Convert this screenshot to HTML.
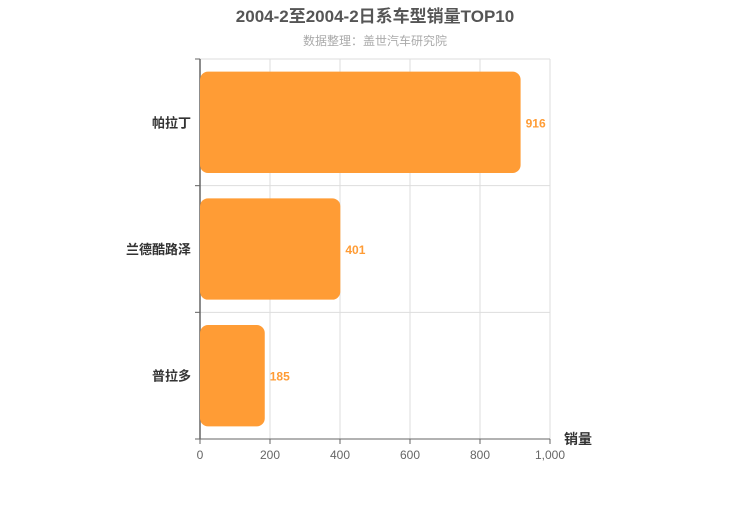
<!DOCTYPE html>
<html><head><meta charset="utf-8"><style>
body{margin:0;background:#fff;width:750px;height:500px;overflow:hidden;font-family:"Liberation Sans","Noto Sans CJK SC",sans-serif}
</style></head><body>
<svg width="750" height="500" font-family="'Liberation Sans','Noto Sans CJK SC',sans-serif">
<text x="375" y="22" text-anchor="middle" font-size="17" font-weight="bold" fill="#555">2004-2至2004-2日系车型销量TOP10</text>
<text x="375" y="45" text-anchor="middle" font-size="12" fill="#aaa">数据整理：盖世汽车研究院</text>
<g id="g"></g>
<text x="564" y="444" font-size="14" font-weight="bold" fill="#333">销量</text>
</svg>
<script>
const categories=["帕拉丁","兰德酷路泽","普拉多"];
const values=[916,401,185];
const ticks=[0,200,400,600,800,1000];
const tickLabels=["0","200","400","600","800","1,000"];
const x0=200,x1=550,y0=59,y1=439,max=1000;
const xs=v=>x0+(v/max)*(x1-x0);
const band=(y1-y0)/categories.length;
const g=document.getElementById('g');
const NS='http://www.w3.org/2000/svg';
function mk(t,a){const e=document.createElementNS(NS,t);for(const k in a)e.setAttribute(k,a[k]);g.appendChild(e);return e;}
ticks.forEach((t,i)=>{
 const l=mk('line',{x1:xs(t),x2:xs(t),y1:y0,y2:y1,stroke:'#ddd'});
 
 
 const k=mk('line',{x1:xs(t),x2:xs(t),y1:y1,y2:y1+5,stroke:'#666'});
 
 
 const tx=mk('text',{x:xs(t),y:y1+20,'text-anchor':'middle','font-size':12,fill:'#666'});
 tx.textContent=tickLabels[i];
 
 
});
for(let i=0;i<=categories.length;i++){
 const y=y0+i*band;
 const l=mk('line',{x1:195,x2:i==categories.length?x1:x0,y1:y,y2:y,stroke:i==categories.length?'#666':'#ddd'});
 if(i<categories.length){const l2=mk('line',{x1:x0,x2:x1,y1:y,y2:y,stroke:'#ddd'});const tk=mk('line',{x1:195,x2:x0,y1:y,y2:y,stroke:'#666'});}
 
 
}
const ax=mk('line',{x1:x0,x2:x0,y1:y0,y2:y1,stroke:'#666','stroke-width':1.5});


categories.forEach((c,i)=>{
 const yc=y0+band*(i+0.5),h=band*0.8;
 const r=mk('rect',{x:x0,y:yc-h/2,width:xs(values[i])-x0,height:h,rx:8,fill:'#ff9c35'});
 
 
 const v=mk('text',{x:xs(values[i])+5,y:yc+5,'font-size':12,'font-weight':'bold',fill:'#ff9c35'});
 v.textContent=values[i];
 
 
 const lb=mk('text',{x:191,y:yc+5,'text-anchor':'end','font-size':13,'font-weight':'bold',fill:'#333'});
 lb.textContent=c;
 
 
});
</script>
</body></html>
